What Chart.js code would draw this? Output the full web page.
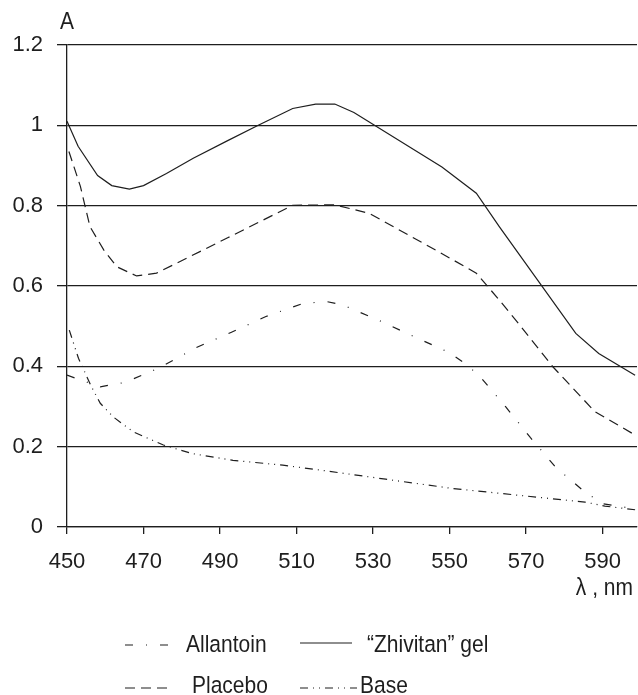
<!DOCTYPE html>
<html>
<head>
<meta charset="utf-8">
<script src="https://cdn.jsdelivr.net/npm/chart.js@4/dist/chart.umd.min.js"></script>
<style>
body{margin:0;background:#fff}
canvas{display:block}
</style>
</head>
<body>
<canvas id="spectra" width="638" height="695"></canvas>
<script>
// wavelength (nm) / absorbance pairs
const gelNm   = [450,452.9,458,461.7,466.3,470,476,483,492,500,509,515,520,525,548,557,563,583,589,598.5];
const gelA    = [1.01,0.948,0.875,0.85,0.841,0.85,0.88,0.918,0.962,1.0,1.042,1.053,1.053,1.032,0.896,0.831,0.748,0.482,0.432,0.378];
const placeboNm = [450.5,453.5,456,459.6,463,468.2,473.4,492,509,520,529,547,557,563,568,577,588,598.5];
const placeboA  = [0.935,0.848,0.748,0.69,0.648,0.625,0.632,0.72,0.801,0.802,0.781,0.686,0.632,0.565,0.507,0.399,0.287,0.229];
const allantoinNm = [450,458.7,465.2,474.3,483.4,493,502,511.8,518,522,531.4,540.7,550,554.6,558,564.7,571.1,577.8,585.4,590,598.5];
const allantoinA  = [0.378,0.349,0.36,0.397,0.445,0.485,0.524,0.557,0.561,0.553,0.515,0.474,0.434,0.403,0.374,0.299,0.223,0.148,0.087,0.058,0.045];
const baseNm = [450.6,453,456.4,458.7,462.1,467.3,475.2,482.6,493.4,506.4,516.8,533.3,550.7,568,585.4,590.6,598.5];
const baseA  = [0.49,0.42,0.349,0.308,0.274,0.237,0.204,0.183,0.166,0.154,0.141,0.119,0.096,0.079,0.062,0.052,0.043];
const xTicks = [450,470,490,510,530,550,570,590];
const yTicks = [0,0.2,0.4,0.6,0.8,1,1.2];

const FONT='"Liberation Sans", Arial, sans-serif';
const INK='#1e1e1e';
const pts=(xs,ys)=>xs.map((x,i)=>({x,y:ys[i]}));

// legend slots: [lineX0, lineX1, lineY, textX, textBaseline]
const legendSlots=[[125,170,645,186,652],[300,352,643,367,652],[125,170,688,192,693],[300,357,688,360,693]];

function tallText(c,txt,x,y,align){
  c.save();c.translate(x,y);c.scale(1,1.1);
  c.textAlign=align||'left';c.fillText(txt,0,0);c.restore();
}

const extras={
  id:'extras',
  afterDraw(chart){
    const c=chart.ctx;
    c.save();
    c.fillStyle=INK;c.font='21px '+FONT;c.textBaseline='alphabetic';
    tallText(c,'A',60,29);
    tallText(c,'λ , nm',633,595,'right');
    chart.data.datasets.forEach((ds,i)=>{
      const [x0,x1,y,tx,ty]=legendSlots[i];
      c.beginPath();c.strokeStyle=INK;c.lineWidth=1.2;
      c.setLineDash(ds.borderDash||[]);
      c.moveTo(x0,y);c.lineTo(x1,y);c.stroke();
      c.setLineDash([]);
      tallText(c,ds.label,tx,ty);
    });
    c.restore();
  }
};

const line=(label,data,dash)=>({label,data,borderColor:INK,borderWidth:1.2,borderDash:dash,pointRadius:0,tension:0,fill:false});

new Chart(document.getElementById('spectra'),{
  type:'line',
  data:{datasets:[
    line('Allantoin',pts(allantoinNm,allantoinA),[8,13,1,13]),
    line('\u201CZhivitan\u201D gel',pts(gelNm,gelA),[]),
    line('Placebo',pts(placeboNm,placeboA),[10,6]),
    line('Base',pts(baseNm,baseA),[8,5,1,5,1,5])
  ]},
  options:{
    responsive:false,animation:false,
    layout:{padding:{top:45,right:1}},
    plugins:{legend:{display:false},tooltip:{enabled:false}},
    scales:{
      x:{type:'linear',min:450,max:599,
        afterBuildTicks:s=>{s.ticks=xTicks.map(v=>({value:v}))},
        afterFit:s=>{s.height=168},
        grid:{drawOnChartArea:false,drawTicks:true,tickLength:7,color:INK,lineWidth:1.3},
        border:{display:true,color:INK,width:1.3},
        ticks:{color:INK,font:{family:FONT,size:22},padding:15,maxRotation:0,callback:v=>String(v)}
      },
      y:{min:0,max:1.2,
        afterBuildTicks:s=>{s.ticks=yTicks.map(v=>({value:v}))},
        afterFit:s=>{s.width=67},
        grid:{color:INK,lineWidth:1.3,tickLength:10},
        border:{display:true,color:INK,width:1.3},
        ticks:{color:INK,font:{family:FONT,size:22},padding:14,callback:v=>String(v)}
      }
    }
  },
  plugins:[extras]
});
</script>
</body>
</html>
